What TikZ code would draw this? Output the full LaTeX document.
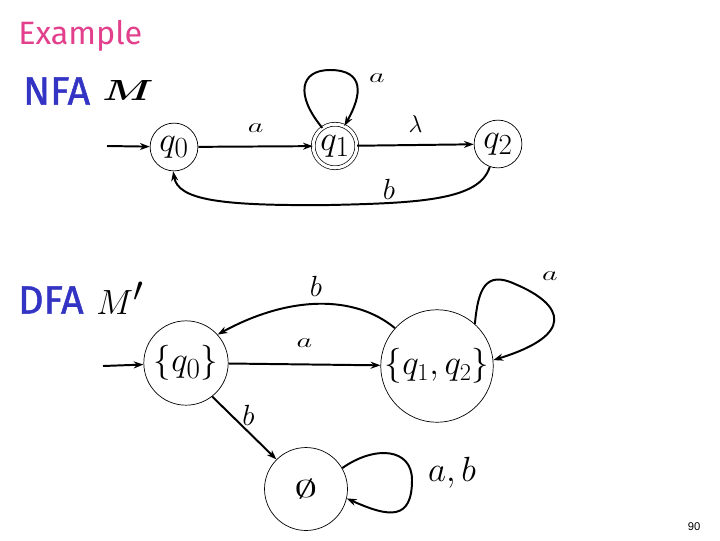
\documentclass[tikz,border=0pt]{standalone}
\usepackage{fontspec}
\newfontfamily\titlefont{Fira Sans}
\newfontfamily\headfont[FakeBold=1.2]{Fira Sans}
\newfontfamily\numfont{Liberation Sans}
\usetikzlibrary{arrows.meta}
\definecolor{pinkc}{RGB}{226,64,140}
\definecolor{bluec}{RGB}{52,52,196}
\newcommand{\wide}[1]{\scalebox{1.5}[1]{#1}}
\begin{document}
\begin{tikzpicture}[x=0.025cm,y=-0.025cm,
  st/.style={circle,draw,line width=0.5pt,inner sep=0pt},
  acc/.style={st,double,double distance=2.2pt},
  tr/.style={line width=1.4pt,-{Stealth[length=7pt,width=5pt]}},
  lbl/.style={inner sep=0pt}]
\useasboundingbox (0,0) rectangle (720,540);
% titles
\node[lbl,anchor=west,text=pinkc,font=\titlefont\fontsize{23}{26}\selectfont] (title) at (18,36) {Example};
\node[lbl,anchor=west,text=bluec,font=\headfont\fontsize{28}{30}\selectfont] (nfa) at (23,91) {NFA};
\node[lbl,anchor=west,font=\boldmath\fontsize{20}{22}\selectfont] (m) at (102,90) {\scalebox{1.4}[1]{$M$}};
\node[lbl,anchor=west,text=bluec,font=\headfont\fontsize{28}{30}\selectfont] (dfa) at (18,300) {DFA};
\node[lbl,anchor=west,font=\fontsize{40}{42}\selectfont] (mp) at (96,298) {$M'$};
\node[lbl,font=\numfont\fontsize{8}{9}\selectfont] (pg) at (694,527) {90};
% NFA states
\node[st,minimum size=34pt,font=\fontsize{30}{32}\selectfont] (q0) at (174,147) {$q_0$};
\node[acc,minimum size=31pt,font=\fontsize{30}{32}\selectfont] (q1) at (335,146) {$q_1$};
\node[st,minimum size=34pt,font=\fontsize{30}{32}\selectfont] (q2) at (498,144) {$q_2$};
\coordinate (s0) at (107,146);
\draw[tr] (s0) -- (q0);
\draw[tr] (q0) -- node[lbl,above=9pt,font=\fontsize{15}{16}\selectfont]{\wide{$a$}} (q1);
\draw[tr] (q1) -- node[lbl,above=8pt,font=\fontsize{17}{18}\selectfont]{$\lambda$} (q2);
\draw[tr] (q1.125) .. controls (295,95) and (300,70) .. (330,70) .. controls (365,70) and (362,95) .. (q1.65);
\node[lbl,font=\fontsize{15}{16}\selectfont] (la1) at (377,78) {\wide{$a$}};
\draw[tr] (q2.250) .. controls (480,200) and (420,203) .. (330,205) .. controls (220,206) and (178,200) .. (q0.268);
\node[lbl,font=\fontsize{21}{22}\selectfont] (lb1) at (389,189) {$b$};
% DFA states
\node[st,minimum size=60pt,font=\fontsize{30}{32}\selectfont] (d0) at (186,363) {$\{q_0\}$};
\node[st,minimum size=80pt,font=\fontsize{27}{29}\selectfont] (d1) at (437,366) {$\{q_1,q_2\}$};
\node[st,minimum size=59pt,font=\fontsize{18}{20}\selectfont] (de) at (306,489) {\scalebox{1.9}[1]{$\emptyset$}};
\coordinate (s1) at (103,366);
\draw[tr] (s1) -- (d0);
\draw[tr] (d0) -- node[lbl,above=11pt,font=\fontsize{15}{16}\selectfont]{\wide{$a$}} (d1);
\draw[tr] (d1.138) .. controls (355,295) and (290,295) .. (d0.42);
\node[lbl,font=\fontsize{22}{24}\selectfont] (lb2) at (316,286) {$b$};
\draw[tr] (d1.48) .. controls (478,290) and (485,270) .. (515,284) .. controls (565,305) and (575,335) .. (d1.6);
\node[lbl,font=\fontsize{15}{16}\selectfont] (la2) at (550,276) {\wide{$a$}};
\draw[tr] (d0.-52) -- node[lbl,pos=0.3,right=7pt,font=\fontsize{22}{24}\selectfont]{$b$} (de.135);
\draw[tr] (de.30) .. controls (375,445) and (412,448) .. (412,480) .. controls (412,520) and (390,518) .. (de.-13);
\node[lbl,font=\fontsize{28}{30}\selectfont] (lab) at (452,473) {$a,b$};
\end{tikzpicture}
\end{document}
